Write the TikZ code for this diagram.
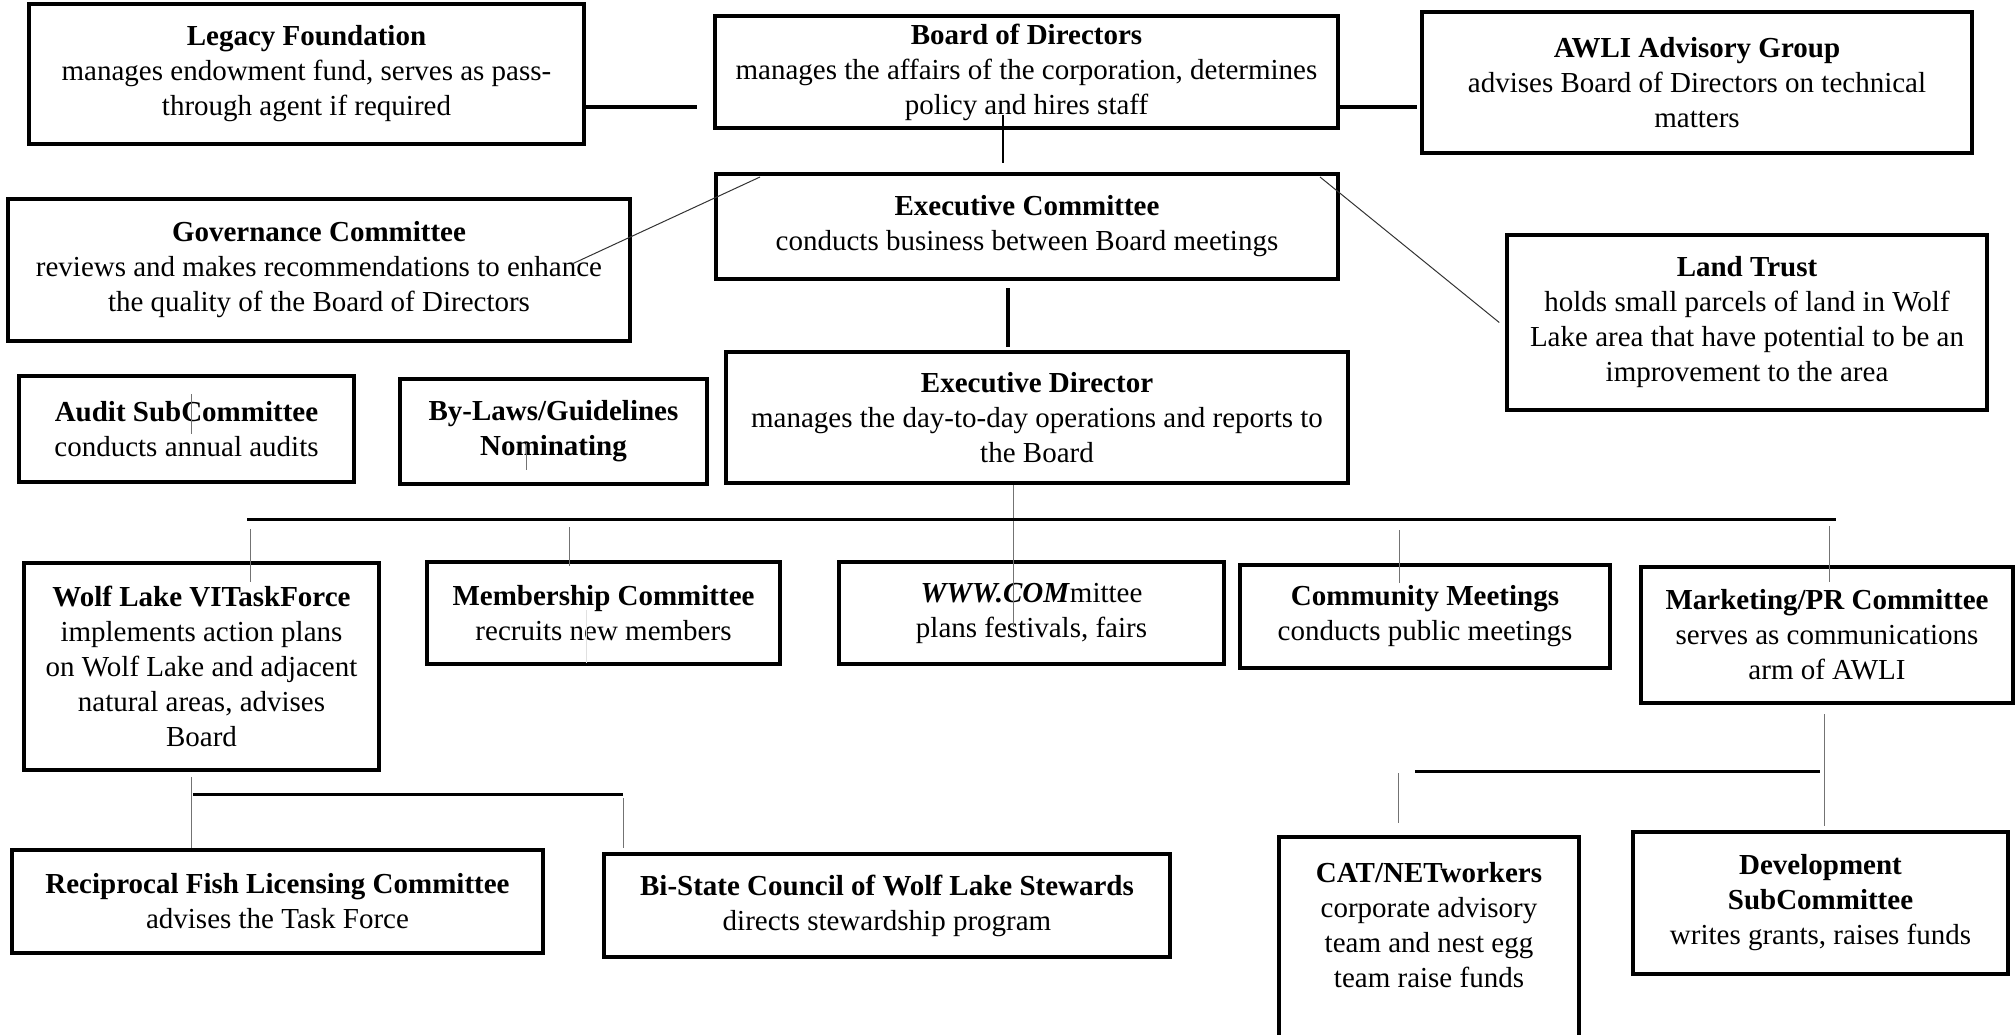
\documentclass[tikz,border=0pt]{standalone}
\usepackage{fontspec}
\setmainfont{Liberation Serif}
\begin{document}
\begin{tikzpicture}[x=1pt,y=-1pt]
    \tikzstyle{every node}=[align=center,line width=3.5pt,font=\fontsize{29}{35}\selectfont]
    \tikzstyle{hair}=[line width=1pt,black!55]
    \tikzstyle{heavy}=[line width=3.5pt]
    \useasboundingbox (0,0) rectangle (2015,1035);

    \node[draw,minimum width=555pt,minimum height=140pt] (lf) at (306.5,74) {\textbf{Legacy Foundation}\\manages endowment fund, serves as pass-\\through agent if required};
    \node[draw,minimum width=623pt,minimum height=112pt] (bd) at (1026.5,72) {\textbf{Board of Directors}\\manages the affairs of the corporation, determines\\policy and hires staff};
    \node[draw,minimum width=550pt,minimum height=141pt] (ag) at (1697,82.5) {\textbf{AWLI Advisory Group}\\advises Board of Directors on technical\\matters};
    \node[draw,minimum width=622pt,minimum height=105pt] (ec) at (1027,226.5) {\textbf{Executive Committee}\\conducts business between Board meetings};
    \node[draw,minimum width=622pt,minimum height=142pt] (gc) at (319,270) {\textbf{Governance Committee}\\reviews and makes recommendations to enhance\\the quality of the Board of Directors};
    \node[draw,minimum width=480pt,minimum height=175pt] (lt) at (1747,322.5) {\textbf{Land Trust}\\holds small parcels of land in Wolf\\Lake area that have potential to be an\\improvement to the area};
    \node[draw,minimum width=335pt,minimum height=106pt] (as) at (186.5,429) {\textbf{Audit SubCommittee}\\conducts annual audits};
    \node[draw,minimum width=307pt,minimum height=105pt] (bl) at (553.5,431.5) {\textbf{By-Laws/Guidelines}\\\textbf{Nominating}};
    \node[draw,minimum width=622pt,minimum height=131pt] (ed) at (1037,417.5) {\textbf{Executive Director}\\manages the day-to-day operations and reports to\\the Board};
    \node[draw,minimum width=355pt,minimum height=207pt] (wl) at (201.5,666.5) {\textbf{Wolf Lake VITaskForce}\\implements action plans\\on Wolf Lake and adjacent\\natural areas, advises\\Board};
    \node[draw,minimum width=353pt,minimum height=102pt] (mc) at (603.5,613) {\textbf{Membership Committee}\\recruits new members};
    \node[draw,minimum width=385pt,minimum height=102pt] (ww) at (1031.5,613) {\textbf{\textit{WWW.COM}}mittee\\plans festivals, fairs};
    \node[draw,minimum width=370pt,minimum height=103pt] (cm) at (1425,616.5) {\textbf{Community Meetings}\\conducts public meetings};
    \node[draw,minimum width=372pt,minimum height=136pt] (mp) at (1827,635) {\textbf{Marketing/PR Committee}\\serves as communications\\arm of AWLI};
    \node[draw,minimum width=531pt,minimum height=103pt] (rf) at (277.5,901.5) {\textbf{Reciprocal Fish Licensing Committee}\\advises the Task Force};
    \node[draw,minimum width=566pt,minimum height=103pt] (bs) at (887,905.5) {\textbf{Bi-State Council of Wolf Lake Stewards}\\directs stewardship program};
    \node (cn) at (1429,925) {\textbf{CAT/NETworkers}\\corporate advisory\\team and nest egg\\team raise funds};
    \draw[line width=3.5pt] (1279,1060) |- (1579,837) -- (1579,1060);
    \node[draw,minimum width=375pt,minimum height=142pt] (ds) at (1820.5,903) {\textbf{Development}\\\textbf{SubCommittee}\\writes grants, raises funds};

    \coordinate (lb) at (697,107);
    \coordinate (ba) at (1417,107);
    \coordinate (be1) at (1003,115);
    \coordinate (be2) at (1003,163);
    \coordinate (eg) at (760,177);
    \coordinate (gx) at (572,264);
    \coordinate (el) at (1320,177);
    \coordinate (ee1) at (1008,288);
    \coordinate (ee2) at (1008,347);
    \coordinate (ew) at (1013,627);
    \coordinate (bus1) at (247,519);
    \coordinate (bus2) at (1836,519);
    \coordinate (w1) at (250,529);
    \coordinate (w2) at (250,582);
    \coordinate (m1) at (569,527);
    \coordinate (m2) at (569,566);
    \coordinate (k1) at (1399,530);
    \coordinate (k2) at (1399,583);
    \coordinate (p1) at (1829,526);
    \coordinate (p2) at (1829,582);
    \coordinate (p3) at (1824,714);
    \coordinate (p4) at (1824,826);
    \coordinate (sub1) at (1415,771);
    \coordinate (sub2) at (1820,771);
    \coordinate (c1) at (1398,773);
    \coordinate (c2) at (1398,823);
    \coordinate (t1) at (191,777);
    \coordinate (t2) at (191,848);
    \coordinate (sub3) at (193,794);
    \coordinate (sub4) at (623,794);
    \coordinate (s1) at (623,798);
    \coordinate (s2) at (623,848);
    \coordinate (a1) at (191,394);
    \coordinate (a2) at (191,434);
    \coordinate (y1) at (526,443);
    \coordinate (y2) at (526,470);
    \coordinate (f1) at (586,610);
    \coordinate (f2) at (586,663);

    \draw[heavy] (lb -| lf.east) -- (lb);
    \draw[heavy] (ba -| bd.east) -- (ba);
    \draw[line width=2.5pt] (be1) -- (be2);
    \draw[hair,black!80] (eg) -- (gx);
    \draw[hair,black!80] (el) -- ([xshift=-6pt]lt.west);
    \draw[line width=4pt] (ee1) -- (ee2);
    \draw[hair] (ew |- ed.south) -- (ew);
    \draw[line width=3pt] (bus1) -- (bus2);
    \draw[hair] (w1) -- (w2);
    \draw[hair] (m1) -- (m2);
    \draw[hair] (k1) -- (k2);
    \draw[hair] (p1) -- (p2);
    \draw[hair] (p3) -- (p4);
    \draw[line width=3pt] (sub1) -- (sub2);
    \draw[hair] (c1) -- (c2);
    \draw[hair] (t1) -- (t2);
    \draw[line width=3pt] (sub3) -- (sub4);
    \draw[hair] (s1) -- (s2);
    \draw[hair] (a1) -- (a2);
    \draw[hair] (y1) -- (y2);
    \draw[hair,black!12] (f1) -- (f2);
\end{tikzpicture}
\end{document}
